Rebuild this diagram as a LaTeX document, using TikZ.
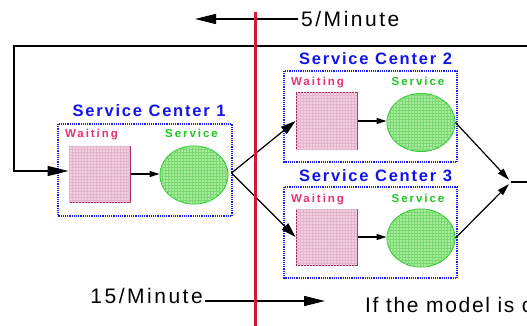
\documentclass[tikz,border=0pt]{standalone}
\usepackage{fontspec}
\setmainfont{Liberation Sans}
\newfontfamily\titlefont[LetterSpace=11]{Liberation Sans}
\newfontfamily\labelfont[LetterSpace=17]{Liberation Sans}
\newfontfamily\ratefont[LetterSpace=12]{Liberation Sans}
\newfontfamily\notefont[LetterSpace=8]{Liberation Sans}
\usetikzlibrary{arrows.meta,patterns,calc,shapes.geometric}

\definecolor{titleblue}{RGB}{20,20,235}
\definecolor{boxblue}{RGB}{30,30,240}
\definecolor{waitpink}{RGB}{230,50,120}
\definecolor{servgreen}{RGB}{30,200,30}
\definecolor{queuefill}{RGB}{240,208,222}
\definecolor{queuegrid}{RGB}{228,180,202}
\definecolor{queueedge}{RGB}{170,40,100}
\definecolor{serverfill}{RGB}{168,236,158}
\definecolor{servergrid}{RGB}{122,216,112}
\definecolor{serveredge}{RGB}{40,200,40}
\definecolor{cutred}{RGB}{220,20,60}

\begin{document}
\begin{tikzpicture}[x=1pt,y=-1pt,
  sctitle/.style={font=\titlefont\bfseries\fontsize{16.5}{18}\selectfont,
    text=titleblue, inner sep=0, anchor=base},
  waitlbl/.style={font=\labelfont\bfseries\fontsize{11.5}{13}\selectfont,
    text=waitpink, inner sep=0, anchor=base},
  servlbl/.style={font=\labelfont\bfseries\fontsize{11.5}{13}\selectfont,
    text=servgreen, inner sep=0, anchor=base},
  ratelbl/.style={font=\ratefont\fontsize{21}{24}\selectfont, inner sep=0},
  queue/.style={draw=queueedge, line width=1pt, fill=queuefill,
    postaction={pattern=grid, pattern color=queuegrid},
    minimum width=61pt, minimum height=56pt, inner sep=0},
  server/.style={ellipse, draw=serveredge, line width=1pt, fill=serverfill,
    postaction={pattern=grid, pattern color=servergrid},
    minimum width=68pt, minimum height=58pt, inner sep=0},
  scbox/.style={draw=boxblue, line width=1.2pt, dash pattern=on 1.2pt off 1pt},
  smallflow/.style={-{Triangle[length=10pt,width=6pt]}, line width=1.1pt},
  midflow/.style={-{Triangle[length=15pt,width=9pt]}, line width=1.2pt},
  joinflow/.style={-{Triangle[length=12pt,width=7pt]}, line width=1.2pt},
  bigflow/.style={-{Triangle[length=21pt,width=10pt]}, line width=1.3pt},
]
\useasboundingbox (0,0) rectangle (527,326);
\fill[white] (0,0) rectangle (527,326);
\clip (0,0) rectangle (527,326);

% service center frames
\draw[scbox] (58,124) rectangle (232,216);
\draw[scbox] (284,71) rectangle (457,162);
\draw[scbox] (284,187) rectangle (457,278);

% titles and labels
\node[sctitle] (t1) at (149,117) {Service Center 1};
\node[sctitle] (t2) at (375.5,65) {Service Center 2};
\node[sctitle] (t3) at (375.5,181) {Service Center 3};
\node[waitlbl] (w1) at (91.5,138) {Waiting};
\node[servlbl] (s1) at (191.5,138) {Service};
\node[waitlbl] (w2) at (317.5,86) {Waiting};
\node[servlbl] (s2) at (418,86) {Service};
\node[waitlbl] (w3) at (317.5,202) {Waiting};
\node[servlbl] (s3) at (418,202) {Service};

% queues and servers
\node[queue] (q1) at (99.5,174) {};
\node[server] (e1) at (194,175) {};
\node[queue] (q2) at (326.5,121) {};
\node[server] (e2) at (421,122.5) {};
\node[queue] (q3) at (326.5,237) {};
\node[server] (e3) at (421,238) {};

% flows inside each center
\draw[smallflow] (q1.east) -- (q1.east -| e1.west);
\draw[smallflow] (q2.east) -- (q2.east -| e2.west);
\draw[smallflow] (q3.east) -- (q3.east -| e3.west);

% split after center 1
\draw[midflow] ($(e1.east)+(3,-2)$) -- (q2.west);
\draw[midflow] ($(e1.east)+(3,-2)$) -- (q3.west);

% merge after centers 2 and 3
\coordinate (J) at (511,182);
\draw[joinflow, shorten >=3pt] (e2.east) -- (J);
\draw[joinflow, shorten >=3pt] (e3.east) -- (J);

% feedback loop back to center 1
\coordinate (Re) at (545,182);
\coordinate (Rt) at (545,46);
\coordinate (Lt) at (14,46);
\draw[bigflow] (J) -- (Re) -- (Rt) -- (Lt) |- ($(q1.west)+(0,-3)$);

% rates across the cut
\node[ratelbl, anchor=west] (r5) at (301,19) {5/Minute};
\coordinate (r5tip) at (195,19);
\draw[bigflow] ($(r5.west)+(-3,0)$) -- (r5tip);

\node[ratelbl, anchor=base east] (r15) at (203,303) {15/Minute};
\coordinate (r15tip) at (325,301);
\draw[bigflow] ($(r15.base east)+(2,-2)$) -- (r15tip);

\node[font=\notefont\fontsize{21}{24}\selectfont, inner sep=0, anchor=base west]
  (note) at (365,312) {If the model is c};

% the cut line
\coordinate (cutTop) at (255,12);
\coordinate (cutBot) at (255,330);
\draw[cutred, line width=3pt] (cutTop) -- (cutBot);
\end{tikzpicture}
\end{document}
